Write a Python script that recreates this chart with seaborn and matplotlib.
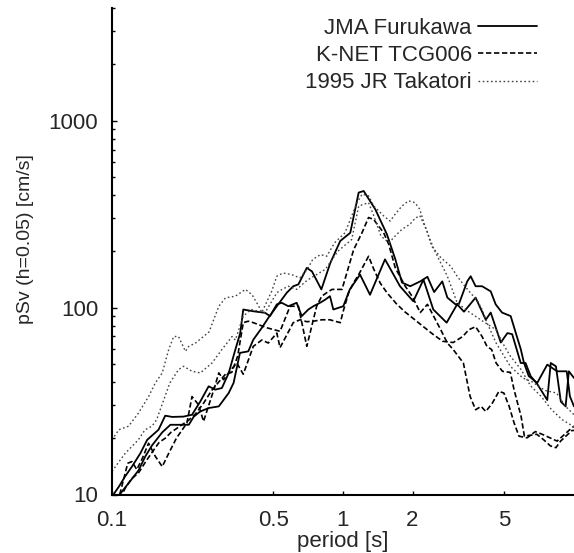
import numpy as np
import pandas as pd
import matplotlib
matplotlib.use("Agg")
import matplotlib.pyplot as plt
import matplotlib.ticker as mticker
import seaborn as sns

# ---------------- data (period [s], pSv [cm/s]) ----------------
labels = ["JMA Furukawa", "K-NET TCG006", "1995 JR Takatori"]

furukawa_a_T = [0.100, 0.1086, 0.118, 0.1305, 0.1394, 0.149, 0.165, 0.179, 0.194, 0.215, 0.226, 0.241,
                0.262, 0.290, 0.320, 0.336, 0.358, 0.389, 0.409, 0.445, 0.475, 0.517, 0.571, 0.609,
                0.641, 0.697, 0.734, 0.806, 0.881, 0.973, 1.075, 1.169, 1.229, 1.38, 1.55, 1.685,
                1.80, 1.955, 2.16, 2.32, 2.48, 2.69, 2.83, 3.07, 3.18, 3.45, 3.57, 3.75, 4.0, 4.36,
                4.58, 4.88, 5.32, 5.6, 5.88, 6.07, 6.37, 6.93, 7.66, 8.45, 9.3, 9.6, 10.0]
furukawa_a_v = [9.2, 10.1, 11.5, 13.5, 16.0, 18.3, 21.5, 23.6, 23.6, 23.6, 26.1, 27.8, 29.0, 29.6,
                34.9, 39.5, 57.2, 58.3, 67.3, 77.8, 88, 101.6, 120, 130, 133, 163, 156, 125, 173,
                227, 251, 412, 420, 335, 246, 181, 136, 130, 138, 146, 121, 138, 113, 104, 105,
                138, 147, 130, 130, 122, 104, 94, 90, 73, 60, 50.7, 43, 39.5, 49.5, 45.6, 45.6,
                33.5, 29.6]

furukawa_b_T = [0.102, 0.107, 0.114, 0.122, 0.1326, 0.142, 0.159, 0.170, 0.182, 0.204, 0.222, 0.241,
                0.262, 0.280, 0.299, 0.320, 0.342, 0.359, 0.370, 0.409, 0.460, 0.483, 0.517, 0.543,
                0.580, 0.630, 0.663, 0.708, 0.744, 0.795, 0.836, 0.878, 0.908, 1.003, 1.07, 1.185,
                1.309, 1.52, 1.765, 2.015, 2.23, 2.46, 2.81, 3.12, 3.34, 3.75, 4.0, 4.15, 4.36, 4.82,
                5.15, 5.4, 5.88, 6.17, 6.49, 6.93, 7.66, 7.93, 8.35, 8.77, 9.2, 9.5, 10.0]
furukawa_b_v = [10.1, 11, 12.5, 14.1, 16.6, 19.6, 22.2, 26.4, 26, 26.1, 26.7, 31.4, 37.9, 36.4, 37.1,
                44.6, 59.6, 73, 97.6, 95.5, 93.7, 90, 104, 106, 101.6, 106, 90, 97.6, 101.6, 106,
                110, 115, 97.6, 101.6, 125, 150, 117, 181, 130, 108, 141, 97.6, 83, 104, 95, 113,
                95, 86, 94, 65, 73, 72, 50.5, 50.5, 43, 39, 32, 50.5, 48.5, 31.4, 29.6, 45.6, 42]

knet_a_T = [0.108, 0.115, 0.122, 0.13, 0.14, 0.15, 0.16, 0.17, 0.18, 0.19, 0.20, 0.215, 0.23, 0.25,
            0.27, 0.29, 0.31, 0.33, 0.35, 0.37, 0.389, 0.409, 0.467, 0.534, 0.59, 0.641, 0.697,
            0.769, 0.809, 0.85, 0.896, 0.99, 1.112, 1.208, 1.29, 1.357, 1.5, 1.577, 1.684, 1.86,
            1.99, 2.09, 2.16, 2.32, 2.65, 2.83, 3.0, 3.32, 3.55, 3.75, 3.96, 4.15, 4.43, 4.73,
            4.97, 5.24, 5.5, 5.78, 6.27, 6.8, 7.28, 8.45, 9.5, 10.0]
knet_a_v = [9.5, 11.0, 12.2, 13.0, 15.0, 17.0, 19.0, 20.0, 21.5, 22.5, 23.5, 25.0, 27.0, 31.0, 36.0,
            40.0, 44.0, 45.0, 55.0, 83, 84.5, 83, 78, 74.6, 101.6, 101.6, 62, 101.6, 115, 120, 125,
            125, 204, 251, 303, 296, 251, 218, 163, 130, 115, 102, 94, 104, 76, 64.6, 59.6, 50.5,
            33.5, 28.4, 29.6, 27.8, 30.8, 35.6, 34.9, 29.6, 24.2, 20.5, 20.1, 21.7, 21, 19.3, 22,
            23.2]

knet_b_T = [0.108, 0.117, 0.122, 0.128, 0.135, 0.144, 0.154, 0.165, 0.176, 0.19, 0.211, 0.222,
            0.237, 0.249, 0.276, 0.290, 0.304, 0.325, 0.347, 0.370, 0.409, 0.445, 0.475, 0.517,
            0.534, 0.609, 0.651, 0.697, 0.744, 0.81, 0.878, 0.973, 1.007, 1.058, 1.112, 1.169,
            1.29, 1.36, 1.45, 1.55, 1.7, 1.85, 2.0, 2.2, 2.45, 2.7, 3.0, 3.3, 3.5, 3.75, 4.0, 4.2,
            4.4, 4.6, 4.9, 5.3, 5.5, 5.9, 6.1, 6.9, 7.4, 7.9, 8.35, 8.75, 9.8, 10.0]
knet_b_v = [10, 14.7, 15, 13.6, 15.5, 18.8, 16, 14.1, 16.6, 20, 24.1, 33.4, 30.2, 24.6, 36.4, 44.7,
            41.1, 46, 50.5, 44, 62, 67, 64.6, 73, 61, 83, 86, 84, 84.5, 86, 86, 83, 97.6, 120, 136,
            150, 188, 160, 135, 120, 105, 95, 88, 80, 72, 66, 65, 70, 76, 79, 70, 62, 59.6, 50.5,
            45.6, 45, 36.4, 26.2, 20.5, 21, 19.6, 18.2, 17.8, 19.3, 22, 22]

takatori_a_T = [0.100, 0.107, 0.118, 0.130, 0.144, 0.154, 0.165, 0.176, 0.185, 0.194, 0.208, 0.215,
                0.230, 0.263, 0.290, 0.310, 0.342, 0.378, 0.404, 0.432, 0.445, 0.491, 0.517, 0.55,
                0.60, 0.65, 0.70, 0.74, 0.80, 0.85, 0.92, 1.02, 1.15, 1.21, 1.29, 1.36, 1.50, 1.60,
                1.68, 1.80, 1.92, 2.05, 2.15, 2.24, 2.35, 2.48, 2.65, 2.83, 2.97, 3.12, 3.5, 4.0,
                4.6, 5.0, 5.3, 5.9, 6.5, 7.2, 8.0, 8.9, 10.0]
takatori_a_v = [19.6, 22.2, 23.2, 27.2, 33.4, 39.5, 44.7, 59.6, 70, 70, 58.3, 62, 64.6, 74, 101.6,
                112.7, 115, 125, 117, 101.6, 94, 122, 147, 153, 150, 144, 160, 181, 192, 188, 222,
                251, 364, 404, 396, 349, 309, 290, 315, 349, 372, 364, 335, 284, 241, 204, 173,
                147, 125, 106, 95, 85, 76, 62, 55, 46.6, 38, 33.5, 28.4, 25.1, 23]

takatori_b_T = [0.100, 0.114, 0.130, 0.139, 0.149, 0.156, 0.178, 0.194, 0.204, 0.222, 0.241, 0.271,
                0.299, 0.331, 0.342, 0.37, 0.40, 0.46, 0.517, 0.545, 0.58, 0.63, 0.70, 0.838, 0.95,
                1.09, 1.17, 1.29, 1.36, 1.46, 1.58, 1.68, 1.80, 1.95, 2.05, 2.15, 2.3, 2.42, 2.65,
                2.93, 3.12, 3.32, 3.6, 3.8, 4.0, 4.2, 4.6, 5.3, 6.0, 6.6, 7.5, 8.4, 9.2, 10.0]
takatori_b_v = [13.3, 16.6, 19.6, 22.2, 23.2, 25.1, 39.5, 46.5, 48.5, 45.6, 44.7, 50.5, 59.6, 70, 67,
                90, 97.6, 94, 120, 125, 130, 125, 140, 160, 200, 231, 349, 364, 309, 241, 222, 241,
                262, 279, 300, 310, 260, 213, 185, 166, 147, 133, 118, 110, 97.6, 83, 64.6, 48.5,
                42, 40, 36, 34.9, 29.6, 26.7]

x_ticks = [0.1, 0.5, 1, 2, 5]
x_ticklabels = ["0.1", "0.5", "1", "2", "5"]
y_ticks = [10, 100, 1000]
y_ticklabels = ["10", "100", "1000"]

# ---------------- style ----------------
sns.set_style("ticks")
plt.rcParams["font.family"] = ["Liberation Sans", "DejaVu Sans"]
plt.rcParams["font.size"] = 16

W, H = 574, 553
fig = plt.figure(figsize=(W / 100, H / 100), dpi=100)
ax = fig.add_axes([112 / W, 1 - 494.5 / H, (574 - 112) / W, (494.5 - 8) / H])
ax.set_xscale("log")
ax.set_yscale("log")

styles = {
    "JMA Furukawa": dict(color="black", lw=1.3, linestyle="-"),
    "K-NET TCG006": dict(color="black", lw=1.2, linestyle=(0, (3.2, 1.6))),
    "1995 JR Takatori": dict(color="#444444", lw=1.0, linestyle=(0, (1.2, 1.8))),
}
series = [
    ("JMA Furukawa", furukawa_a_T, furukawa_a_v, True),
    ("JMA Furukawa", furukawa_b_T, furukawa_b_v, False),
    ("K-NET TCG006", knet_a_T, knet_a_v, True),
    ("K-NET TCG006", knet_b_T, knet_b_v, False),
    ("1995 JR Takatori", takatori_a_T, takatori_a_v, True),
    ("1995 JR Takatori", takatori_b_T, takatori_b_v, False),
]
for name, T, v, lab in series:
    df = pd.DataFrame({"period": T, "psv": v})
    sns.lineplot(data=df, x="period", y="psv", ax=ax, estimator=None, sort=False,
                 label=name if lab else None, **styles[name])

ax.set_xlim(0.1, 10.0)
ax.set_ylim(10, 4000)

ax.xaxis.set_major_locator(mticker.FixedLocator(x_ticks))
ax.xaxis.set_major_formatter(mticker.FixedFormatter(x_ticklabels))
ax.xaxis.set_minor_locator(mticker.NullLocator())
ax.yaxis.set_major_locator(mticker.FixedLocator(y_ticks))
ax.yaxis.set_major_formatter(mticker.FixedFormatter(y_ticklabels))
ax.yaxis.set_minor_locator(mticker.LogLocator(base=10, subs=np.arange(2, 10)))
ax.yaxis.set_minor_formatter(mticker.NullFormatter())

ax.tick_params(which="both", direction="in", labelsize=16, width=1.0, color="black")
ax.tick_params(axis="x", which="major", length=3, pad=11)
ax.tick_params(axis="y", which="major", length=3.5, pad=10)
ax.tick_params(axis="y", which="minor", length=2.5)

for s in ["top", "right"]:
    ax.spines[s].set_visible(False)
for s in ["left", "bottom"]:
    ax.spines[s].set_linewidth(1.5)
    ax.spines[s].set_color("black")

ax.set_xlabel("period [s]", fontsize=16)
ax.xaxis.set_label_coords(0.5, (494.5 - 531) / 486.5)
ax.set_ylabel("pSv (h=0.05) [cm/s]", fontsize=14)
ax.yaxis.set_label_coords((34 - 112) / 462, (494.5 - 239) / 486.5)

leg = ax.legend(loc="upper right", bbox_to_anchor=((537 - 112) / 462, (494.5 - 18) / 486.5),
                frameon=False, markerfirst=False, handlelength=2.66, handletextpad=0.27,
                labelspacing=0.28, borderpad=0.0, borderaxespad=0.0, fontsize=16)

fig.savefig("out.png", dpi=100)
